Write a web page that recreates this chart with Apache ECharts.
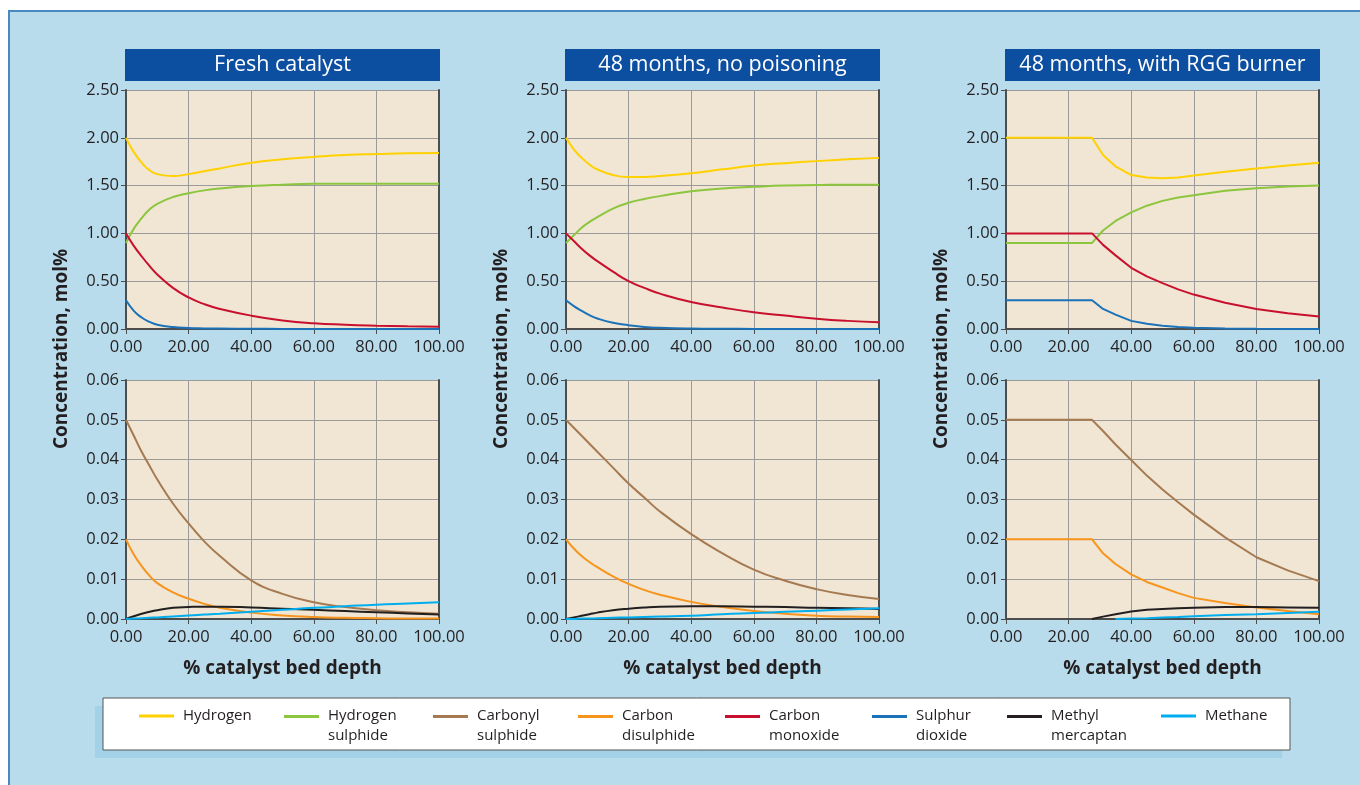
<!DOCTYPE html>
<html>
<head>
<meta charset="utf-8">
<script src="https://cdn.jsdelivr.net/npm/echarts@6/dist/echarts.min.js"></script>
<style>
  html, body { margin: 0; padding: 0; background: #fff; }
  #chart { width: 1360px; height: 785px; }
</style>
</head>
<body>
<div id="chart"></div>
<script>
// panel titles
const panelTitles = ['Fresh catalyst', '48 months, no poisoning', '48 months, with RGG burner']

// x values (% catalyst bed depth)
const depthFresh = [0, 2.5, 5, 7.5, 10, 15, 20, 25, 30, 40, 50, 60, 70, 80, 90, 100]
const depthAged = [0, 2.5, 5, 7.5, 10, 15, 20, 25, 30, 40, 50, 60, 70, 80, 90, 100]
const depthRgg = [0, 10, 20, 27.5, 31, 35, 40, 45, 50, 55, 60, 70, 80, 90, 100]

// Fresh catalyst
const freshH2 = [2.00, 1.85, 1.74, 1.66, 1.62, 1.60, 1.62, 1.65, 1.68, 1.74, 1.775, 1.80, 1.82, 1.83, 1.838, 1.84]
const freshH2S = [0.90, 1.05, 1.16, 1.25, 1.31, 1.38, 1.42, 1.45, 1.47, 1.495, 1.51, 1.52, 1.52, 1.52, 1.52, 1.52]
const freshCO = [1.00, 0.87, 0.76, 0.66, 0.57, 0.43, 0.33, 0.26, 0.21, 0.14, 0.09, 0.06, 0.045, 0.035, 0.028, 0.024]
const freshSO2 = [0.30, 0.19, 0.12, 0.075, 0.045, 0.02, 0.01, 0.006, 0.004, 0.002, 0.001, 0, 0, 0, 0, 0]
const freshCOS = [0.050, 0.046, 0.042, 0.0385, 0.035, 0.029, 0.024, 0.0195, 0.0158, 0.0097, 0.0063, 0.0042, 0.003, 0.0022, 0.0017, 0.0013]
const freshCS2 = [0.020, 0.0162, 0.0133, 0.0109, 0.0090, 0.0067, 0.0051, 0.0038, 0.0028, 0.0016, 0.0009, 0.0005, 0.0003, 0.0002, 0.0001, 0.0001]
const freshMeSH = [0, 0.0007, 0.0013, 0.0018, 0.0022, 0.0028, 0.0030, 0.0031, 0.0031, 0.0029, 0.0026, 0.0023, 0.0020, 0.0017, 0.0014, 0.0011]
const freshCH4 = [0, 0.0001, 0.0002, 0.0003, 0.0004, 0.0006, 0.0009, 0.0011, 0.0013, 0.0018, 0.0023, 0.0028, 0.0032, 0.0036, 0.0039, 0.0042]

// 48 months, no poisoning
const agedH2 = [2.00, 1.88, 1.79, 1.72, 1.67, 1.61, 1.59, 1.59, 1.60, 1.63, 1.67, 1.71, 1.735, 1.756, 1.775, 1.79]
const agedH2S = [0.90, 0.98, 1.06, 1.12, 1.17, 1.26, 1.32, 1.36, 1.39, 1.44, 1.47, 1.487, 1.50, 1.505, 1.51, 1.51]
const agedCO = [1.00, 0.92, 0.84, 0.77, 0.71, 0.60, 0.50, 0.43, 0.37, 0.283, 0.225, 0.175, 0.14, 0.108, 0.085, 0.07]
const agedSO2 = [0.30, 0.24, 0.19, 0.145, 0.11, 0.065, 0.04, 0.022, 0.013, 0.005, 0.002, 0.001, 0, 0, 0, 0]
const agedCOS = [0.050, 0.048, 0.046, 0.044, 0.042, 0.038, 0.034, 0.0305, 0.027, 0.0213, 0.0165, 0.0124, 0.0096, 0.0075, 0.006, 0.005]
const agedCS2 = [0.020, 0.0177, 0.0158, 0.0143, 0.0130, 0.0107, 0.0088, 0.0073, 0.0061, 0.0043, 0.003, 0.002, 0.0013, 0.0008, 0.0006, 0.0005]
const agedMeSH = [0, 0.0004, 0.0008, 0.0012, 0.0016, 0.0022, 0.0026, 0.0029, 0.0031, 0.0032, 0.0032, 0.0031, 0.0030, 0.0028, 0.0027, 0.0025]
const agedCH4 = [0, 0, 0.0001, 0.0001, 0.0002, 0.0003, 0.0004, 0.0005, 0.0006, 0.0008, 0.0012, 0.0015, 0.0018, 0.0021, 0.0024, 0.0027]

// 48 months, with RGG burner
const rggH2 = [2.00, 2.00, 2.00, 2.00, 1.82, 1.70, 1.61, 1.585, 1.577, 1.585, 1.605, 1.645, 1.68, 1.71, 1.74]
const rggH2S = [0.90, 0.90, 0.90, 0.90, 1.03, 1.13, 1.22, 1.29, 1.34, 1.375, 1.40, 1.445, 1.473, 1.49, 1.50]
const rggCO = [1.00, 1.00, 1.00, 1.00, 0.88, 0.77, 0.64, 0.55, 0.48, 0.415, 0.36, 0.275, 0.21, 0.165, 0.132]
const rggSO2 = [0.30, 0.30, 0.30, 0.30, 0.21, 0.15, 0.085, 0.055, 0.035, 0.022, 0.013, 0.005, 0.002, 0.001, 0]
const rggCOS = [0.05, 0.05, 0.05, 0.05, 0.0472, 0.0438, 0.0399, 0.036, 0.0325, 0.0293, 0.0262, 0.0205, 0.0155, 0.0122, 0.0095]
const rggCS2 = [0.02, 0.02, 0.02, 0.02, 0.0165, 0.0138, 0.0112, 0.0093, 0.0079, 0.0065, 0.0053, 0.004, 0.0029, 0.002, 0.0012]
const rggMeSH = [null, null, null, 0, 0.0006, 0.0012, 0.0019, 0.0023, 0.0025, 0.0027, 0.0028, 0.003, 0.003, 0.0029, 0.0028]
const rggCH4 = [null, null, null, null, null, 0, 0.0001, 0.0002, 0.0004, 0.0005, 0.0007, 0.001, 0.0012, 0.0015, 0.0018]

// axis ticks
const xTicks = [0, 20, 40, 60, 80, 100]
const yTopTicks = [0, 0.5, 1, 1.5, 2, 2.5]
const yBottomTicks = [0, 0.01, 0.02, 0.03, 0.04, 0.05, 0.06]

const gasNames = ['Hydrogen', 'Hydrogen sulphide', 'Carbonyl sulphide', 'Carbon disulphide',
  'Carbon monoxide', 'Sulphur dioxide', 'Methyl mercaptan', 'Methane']
const gasColors = {
  'Hydrogen': '#ffd100',
  'Hydrogen sulphide': '#8cc63f',
  'Carbonyl sulphide': '#a57a52',
  'Carbon disulphide': '#f7941d',
  'Carbon monoxide': '#c8102e',
  'Sulphur dioxide': '#1b72b8',
  'Methyl mercaptan': '#231f20',
  'Methane': '#00aeef'
}

const panels = [
  { depth: depthFresh, smooth: 0.5, top: { 'Hydrogen': freshH2, 'Hydrogen sulphide': freshH2S, 'Carbon monoxide': freshCO, 'Sulphur dioxide': freshSO2 },
    bottom: { 'Carbonyl sulphide': freshCOS, 'Carbon disulphide': freshCS2, 'Methyl mercaptan': freshMeSH, 'Methane': freshCH4 } },
  { depth: depthAged, smooth: 0.5, top: { 'Hydrogen': agedH2, 'Hydrogen sulphide': agedH2S, 'Carbon monoxide': agedCO, 'Sulphur dioxide': agedSO2 },
    bottom: { 'Carbonyl sulphide': agedCOS, 'Carbon disulphide': agedCS2, 'Methyl mercaptan': agedMeSH, 'Methane': agedCH4 } },
  { depth: depthRgg, smooth: false, top: { 'Hydrogen': rggH2, 'Hydrogen sulphide': rggH2S, 'Carbon monoxide': rggCO, 'Sulphur dioxide': rggSO2 },
    bottom: { 'Carbonyl sulphide': rggCOS, 'Carbon disulphide': rggCS2, 'Methyl mercaptan': rggMeSH, 'Methane': rggCH4 } }
]

const FONT = 'Open Sans'
const colLeft = [126, 566, 1006]
const plotW = 313
const rowTop = [90, 380]
const plotH = 239

const grid = []
const xAxis = []
const yAxis = []
const series = []
const graphic = []

// outer frame
graphic.push({
  type: 'rect', z: -10, silent: true,
  shape: { x: 9, y: 11, width: 1400, height: 800 },
  style: { fill: '#b8dcec', stroke: '#4a88c2', lineWidth: 2 }
})

const axisText = { color: '#231f20', fontFamily: FONT, fontSize: 16.5 }

for (let row = 0; row < 2; row++) {
  for (let col = 0; col < 3; col++) {
    const gi = row * 3 + col
    grid.push({
      left: colLeft[col], top: rowTop[row], width: plotW, height: plotH,
      show: true, backgroundColor: '#f0e6d3', borderWidth: 0
    })
    xAxis.push({
      type: 'value', gridIndex: gi, min: 0, max: 100, interval: 20,
      axisLine: { show: true, onZero: false, lineStyle: { color: '#4d4d4d', width: 2 } },
      axisTick: { show: true, length: 5, lineStyle: { color: '#4d4d4d' } },
      axisLabel: { ...axisText, margin: 10, formatter: v => v.toFixed(2) },
      splitLine: { show: true, lineStyle: { color: '#9b9b9b', width: 1 } },
      name: row === 1 ? '% catalyst bed depth' : '',
      nameLocation: 'middle', nameGap: 40,
      nameTextStyle: { color: '#231f20', fontFamily: FONT, fontSize: 19, fontWeight: 'bold' }
    })
    const ticks = row === 0 ? yTopTicks : yBottomTicks
    yAxis.push({
      type: 'value', gridIndex: gi, min: ticks[0], max: ticks[ticks.length - 1],
      interval: ticks[1] - ticks[0],
      axisLine: { show: true, onZero: false, lineStyle: { color: '#4d4d4d', width: 2 } },
      axisTick: { show: true, length: 5, lineStyle: { color: '#4d4d4d' } },
      axisLabel: { ...axisText, margin: 7, formatter: v => v.toFixed(2) },
      splitLine: { show: true, lineStyle: { color: '#9b9b9b', width: 1 } }
    })
  }
}
// right-hand frame lines
for (let gi = 0; gi < 6; gi++) {
  yAxis.push({
    type: 'value', gridIndex: gi, position: 'right', min: 0, max: 1,
    axisLine: { show: true, onZero: false, lineStyle: { color: '#4d4d4d', width: 2 } },
    axisTick: { show: false }, axisLabel: { show: false }, splitLine: { show: false }
  })
}

panels.forEach((p, col) => {
  ;[p.top, p.bottom].forEach((group, row) => {
    const gi = row * 3 + col
    Object.keys(group).forEach(name => {
      series.push({
        name, type: 'line', xAxisIndex: gi, yAxisIndex: gi,
        data: p.depth.map((x, i) => [x, group[name][i]]),
        showSymbol: false, symbol: 'none', smooth: p.smooth,
        connectNulls: false,
        lineStyle: { color: gasColors[name], width: 2 },
        itemStyle: { color: gasColors[name] },
        z: 3
      })
    })
  })
  // title bar
  graphic.push({
    type: 'rect', z: 5, silent: true,
    shape: { x: colLeft[col] - 1, y: 49, width: plotW + 2, height: 32 },
    style: { fill: '#0c4ea0' }
  })
  graphic.push({
    type: 'text', z: 6, silent: true,
    x: colLeft[col] + plotW / 2, y: 65,
    style: { text: panelTitles[col], fill: '#fff', font: `21.5px "${FONT}"`, align: 'center', verticalAlign: 'middle' }
  })
  // y-axis title
  graphic.push({
    type: 'text', z: 6, silent: true,
    x: colLeft[col] - 64, y: 349, rotation: Math.PI / 2,
    style: { text: 'Concentration, mol%', fill: '#231f20', font: `bold 19px "${FONT}"`, align: 'center', verticalAlign: 'middle' }
  })
})

// legend box with shadow
graphic.push({
  type: 'rect', z: 1, silent: true,
  shape: { x: 95, y: 706, width: 1187, height: 52 },
  style: { fill: '#a3d2e8' }
})
graphic.push({
  type: 'rect', z: 2, silent: true,
  shape: { x: 103, y: 698, width: 1187, height: 52 },
  style: { fill: '#ffffff', stroke: '#555555', lineWidth: 1 }
})

const legendLeft = [134, 279, 428, 573, 720, 867, 1002, 1156]
const legend = gasNames.map((name, i) => {
  const twoLine = name.indexOf(' ') > 0
  return {
    data: [name], left: legendLeft[i], top: 701, z: 10,
    itemWidth: 35, itemHeight: twoLine ? 23 : 3,
    icon: twoLine ? 'path://M0,0L35,0L35,3L0,3ZM0,22L0.01,22' : 'rect',
    itemStyle: { borderWidth: 0 },
    formatter: n => n.replace(' ', '\n'),
    selectedMode: false,
    textStyle: { color: '#231f20', fontFamily: FONT, fontSize: 15, lineHeight: 20, padding: [0, 0, 0, 4] }
  }
})

const chart = echarts.init(document.getElementById('chart'))
chart.setOption({
  backgroundColor: '#ffffff',
  animation: false,
  textStyle: { fontFamily: FONT },
  grid, xAxis, yAxis, series, legend, graphic
})
</script>
</body>
</html>
